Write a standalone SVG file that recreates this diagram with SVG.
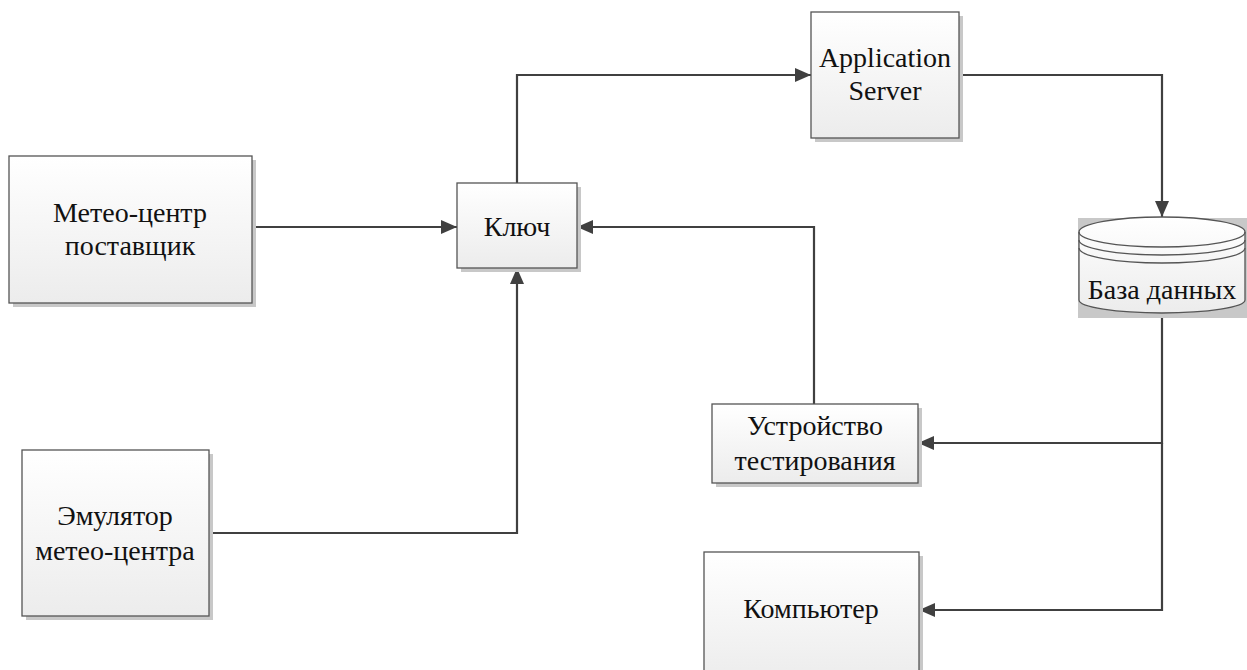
<svg xmlns="http://www.w3.org/2000/svg" width="1247" height="670" viewBox="0 0 1247 670">
<defs>
<linearGradient id="g" x1="0" y1="0" x2="0" y2="1">
<stop offset="0" stop-color="#ffffff"/>
<stop offset="1" stop-color="#ececec"/>
</linearGradient>
<marker id="arr" viewBox="0 0 16 14" refX="16" refY="7" markerWidth="16" markerHeight="14" markerUnits="userSpaceOnUse" orient="auto">
<path d="M0,0 L16,7 L0,14 Z" fill="#404040"/>
</marker>
</defs>
<style>
.sh{fill:#c8c8c8}
.box{fill:url(#g);stroke:#555;stroke-width:1.3}
.t{font-family:"Liberation Serif","Times New Roman",serif;font-size:28px;fill:#111;text-anchor:middle}
.c{fill:none;stroke:#404040;stroke-width:2.2;marker-end:url(#arr)}
</style>
<rect width="1247" height="670" fill="#fff"/>
<g id="connectors">
<path class="c" d="M252,227 H457"/>
<path class="c" d="M209,533 H517 V268"/>
<path class="c" d="M517,183 V75 H811"/>
<path class="c" d="M959,75 H1162 V217"/>
<path class="c" d="M1162,313 V443 H918"/>
<path class="c" d="M1162,443 V610 H919"/>
<path class="c" d="M814,404 V227 H577"/>
</g>
<g id="meteo">
<rect class="sh" x="13" y="160" width="243" height="147"/>
<rect class="box" x="9" y="156" width="243" height="147"/>
<text class="t" x="130" y="222">Метео-центр</text>
<text class="t" x="130" y="255">поставщик</text>
</g>
<g id="kluch">
<rect class="sh" x="461" y="187" width="120" height="85"/>
<rect class="box" x="457" y="183" width="120" height="85"/>
<text class="t" x="517" y="236">Ключ</text>
</g>
<g id="appserver">
<rect class="sh" x="815" y="16" width="148" height="126"/>
<rect class="box" x="811" y="12" width="148" height="126"/>
<text class="t" x="885" y="67">Application</text>
<text class="t" x="885" y="100">Server</text>
</g>
<g id="db">
<rect class="sh" x="1078" y="218" width="169" height="100"/>
<path class="box" d="M1079,232 A83,15 0 0 1 1245,232 V300 A83,13 0 0 1 1079,300 Z"/>
<path d="M1079,232 A83,15 0 0 0 1245,232 M1079,240 A83,15 0 0 0 1245,240 M1079,248 A83,15 0 0 0 1245,248" fill="none" stroke="#555" stroke-width="1.3"/>
<text class="t" x="1162" y="299">База данных</text>
</g>
<g id="tester">
<rect class="sh" x="716" y="408" width="206" height="79"/>
<rect class="box" x="712" y="404" width="206" height="79"/>
<text class="t" x="815" y="435">Устройство</text>
<text class="t" x="815" y="470">тестирования</text>
</g>
<g id="emulator">
<rect class="sh" x="26" y="454" width="187" height="166"/>
<rect class="box" x="22" y="450" width="187" height="166"/>
<text class="t" x="115" y="525">Эмулятор</text>
<text class="t" x="115" y="560">метео-центра</text>
</g>
<g id="computer">
<rect class="sh" x="708" y="556" width="215" height="130"/>
<rect class="box" x="704" y="552" width="215" height="130"/>
<text class="t" x="811" y="618">Компьютер</text>
</g>
</svg>
